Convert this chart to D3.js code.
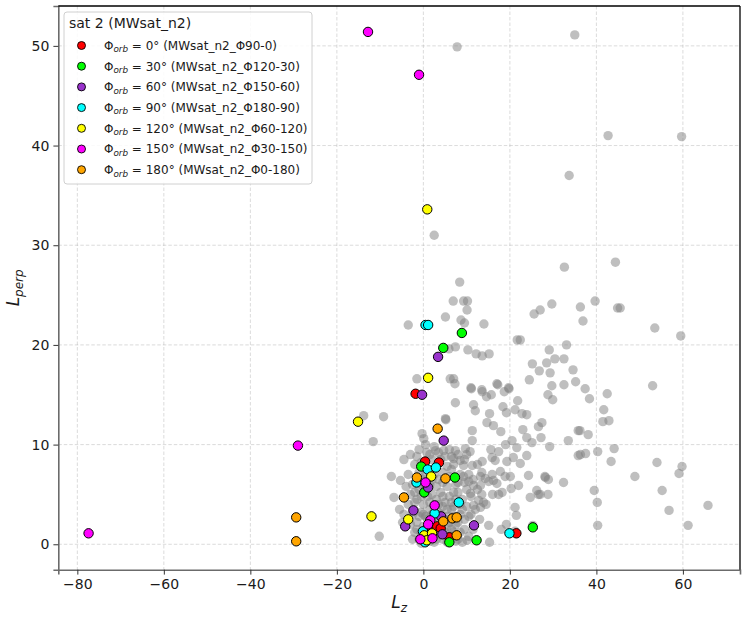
<!DOCTYPE html>
<html>
<head>
<meta charset="utf-8">
<script src="https://cdn.jsdelivr.net/npm/d3@7"></script>
<style>
  body { margin: 0; background: #fff; }
  svg { display: block; font-family: "DejaVu Sans", sans-serif; }
</style>
</head>
<body>
<svg id="chart" width="748" height="618"></svg>
<script>
// all satellites (gray background cloud), [Lz, Lperp]
const grayPoints = [
  [7.8,49.9],[35.0,51.1],[59.7,40.9],[42.7,41.0],[33.7,37.0],[2.5,31.0],[32.6,27.8],[44.4,28.3],[8.4,26.3],
  [29.7,24.1],[27.0,23.5],[25.6,23.1],[36.3,23.8],[39.7,24.4],[44.9,23.7],[45.5,23.7],[36.9,22.4],[53.5,21.7],
  [59.5,20.9],[22.4,20.5],[29.1,19.5],[33.1,20.0],[25.2,18.1],[28.5,18.2],[30.4,18.6],[32.5,18.6],[26.8,17.4],
  [29.3,17.2],[34.6,17.5],[24.5,16.5],[29.7,15.9],[32.5,16.0],[35.2,16.3],[37.4,15.6],[53.0,15.9],
  [28.8,15.0],[29.9,14.5],[38.4,14.6],[42.5,15.1],[41.7,13.5],[41.5,12.3],[42.9,12.4],[27.4,12.2],[27.2,10.7],
  [36.2,11.4],[38.1,11.0],[33.5,10.4],[29.2,9.8],[36.3,9.0],[37.5,9.1],[40.3,9.3],[44.1,9.6],[43.4,8.3],
  [54.0,8.2],[59.8,7.8],[59.1,7.1],[48.9,6.8],[28.2,6.7],[28.9,6.5],[32.4,6.2],[39.5,5.4],[55.2,5.4],[27.0,5.0],
  [28.8,5.0],[40.2,4.2],[65.8,3.9],[56.8,3.4],[40.3,1.9],[61.2,1.9],
  [6.2,16.6],[7.0,16.6],[7.3,16.1],[7.4,14.2],[11.1,15.6],[13.6,15.3],[14.6,14.8],[15.7,15.0],[17.2,16.0],
  [18.7,15.3],[19.8,15.6],[21.8,14.4],[11.6,14.0],[12.0,13.4],[15.3,13.1],[18.4,13.8],[19.2,13.2],[21.2,13.5],
  [22.8,13.1],[23.9,13.0],[5.2,12.5],[11.3,11.4],[14.7,12.2],[16.2,11.9],[17.9,11.3],[23.0,11.5],[26.6,11.8],
  [23.9,10.7],[25.1,10.2],[35.8,11.4],[11.3,10.4],[2.8,9.4],[4.7,9.4],[7.4,9.4],[9.7,9.6],[10.8,9.3],[15.6,9.5],
  [17.4,9.3],[19.0,10.0],[20.5,10.4],[21.6,9.7],[23.9,8.9],[20.8,8.7],[35.8,8.9],[7.0,8.6],[8.5,8.4],[9.3,7.9],
  [11.3,7.9],[13.6,8.3],[15.9,8.7],[16.6,8.4],[19.3,8.3],[22.4,8.1],[24.3,6.9],[28.1,6.8],[13.2,6.8],[14.3,6.6],
  [16.2,6.4],[17.8,7.3],[20.1,6.8],[22.0,5.9],[9.3,6.8],[10.5,6.3],[11.6,5.9],
  [15.9,7.0],[18.9,6.8],[15.1,6.3],[17.0,6.1],[20.3,5.6],[13.2,5.9],[26.2,5.4],[24.7,4.7],[26.6,5.0],[17.4,5.0],
  [18.2,5.2],[10.9,5.1],[12.8,4.4],[13.9,4.2],[11.6,3.9],[13.2,3.7],[21.2,3.7],[21.5,2.9],[15.1,1.9],[18.0,1.5],
  [19.2,2.0],[15.3,0.2],[10.1,0.4],[21.2,1.3],[25.3,1.9],
  [6.9,24.4],[9.3,24.4],[10.2,24.4],[10.1,23.5],[5.1,22.8],[-3.5,22.0],[8.7,22.5],[9.5,22.2],[14.0,22.1],
  [7.4,19.8],[5.9,19.6],[10.3,19.5],[12.2,19.1],[13.6,18.9],[15.2,19.1],[21.7,20.5],[-1.5,16.6],[11.0,15.7],
  [13.5,15.5],[17.0,16.1],[19.7,15.7],[-13.8,12.9],[-9.2,12.8],[-11.6,10.3],[-0.3,11.1],[0.1,10.6],[5.1,12.6],
  [-7.4,6.8],[-5.3,6.4],[-6.8,4.7],[-10.2,0.8],[-5.5,3.5],[-4.8,2.2],
  [-4.5,8.5],[-3.0,9.0],[-2.0,8.0],[-1.0,9.5],[0.5,10.0],[1.5,9.0],[2.5,9.8],[3.5,9.2],[5.0,8.8],[6.0,9.5],
  [7.0,8.0],[8.0,9.0],[9.5,8.5],[-3.5,7.0],[-2.5,6.0],[-1.0,7.2],[0.0,6.5],[1.5,6.0],[2.5,7.0],[3.5,6.5],
  [4.5,7.2],[5.5,5.8],[6.5,7.5],[7.5,6.0],[8.5,7.0],[9.5,6.2],[10.5,7.0],[11.5,6.5],[-3.0,5.0],[-2.0,4.2],
  [-1.0,5.5],[0.0,4.0],[1.0,4.8],[2.0,5.0],[3.0,4.5],[4.0,5.2],[5.0,4.2],[6.0,4.8],[7.0,3.8],[8.0,5.2],[9.0,4.5],
  [10.0,3.8],[11.0,4.8],[12.0,3.5],[-2.5,3.0],[-1.5,2.2],[-0.5,3.2],[0.5,2.8],[1.5,3.5],[2.5,2.2],[3.5,3.2],
  [4.5,3.8],[5.5,2.8],[6.5,3.5],[7.5,2.0],[8.5,3.0],[9.5,2.5],[10.5,2.8],[-2.0,1.2],[-1.0,0.5],[0.0,1.8],
  [1.0,0.8],[2.0,1.5],[3.0,0.5],[4.0,2.0],[5.0,1.2],[6.5,1.5],[7.5,0.3],[8.5,1.2],[9.0,0.2],[-0.5,0.1],[1.5,0.3],
  [3.5,1.0],[5.5,0.2],[13.5,5.0],[14.5,4.0],[16.0,5.0],[13.0,2.5],[11.5,1.5],[13.5,7.2],[12.5,8.0],[10.0,9.0],
  [0.8,9.2],[2.0,8.5],[3.0,7.8],[4.0,8.5],[5.5,7.8],[6.5,8.8],[-1.5,8.8],[-0.5,8.2],
  [0.5,7.0],[2.0,6.5],[3.0,5.8],[4.5,6.2],[6.0,6.8],[7.0,5.2],[8.0,6.2],[-0.5,6.0],[-2.0,5.2],
  [0.5,5.8],[1.5,4.2],[2.5,3.8],[3.5,4.0],[4.5,4.8],[5.5,3.5],[6.5,4.2],[7.5,4.5],[8.5,4.0],[-1.5,4.5],[-0.5,4.8],
  [0.0,3.0],[1.0,2.5],[2.0,3.0],[3.0,2.8],[4.0,3.0],[5.0,2.5],[6.0,2.2],[7.0,2.8],[8.0,2.2],[-1.0,2.8],[-3.0,2.0],
  [-1.5,1.5],[-0.5,1.2],[0.5,1.5],[2.5,1.0],[4.5,0.5],[5.5,1.8],[6.5,0.8],[7.0,1.2],[8.0,0.5],[-2.5,0.5],[2.5,0.2],
  [9.0,3.5],[10.0,5.5],[11.0,3.0],[12.5,5.5],[9.5,1.5],[10.5,0.8],[-3.5,4.0],[-4.0,5.8],[-4.5,3.0]
]

// one array per orbital phase
const phi0 = [[-1.8,15.1],[0.4,8.3],[3.6,8.2],[1.5,1.8],[3.2,1.8],[4.0,1.6],[6.0,0.7],[21.5,1.1]]
const phi30 = [[8.9,21.2],[4.6,19.7],[-0.5,7.8],[7.3,6.7],[0.2,5.2],[6.0,0.2],[12.3,0.4],[25.3,1.7]]
const phi60 = [[3.4,18.8],[-0.3,15.0],[4.7,10.4],[1.1,5.7],[-2.3,3.4],[4.1,2.8],[-4.2,1.8],[11.7,1.9],[4.4,1.0]]
const phi90 = [[0.5,22.0],[1.1,22.0],[1.0,7.5],[2.9,7.7],[-1.6,6.2],[8.2,4.2],[2.6,3.1],[-0.1,1.3],[0.4,0.2],[19.9,1.1]]
const phi120 = [[0.9,33.6],[1.1,16.7],[-15.1,12.3],[-12.0,2.8],[1.8,6.8],[-3.5,2.5],[0.2,0.9],[2.0,1.1],[0.8,0.4]]
const phi150 = [[-12.8,51.4],[-1.0,47.1],[-29.0,9.9],[-77.4,1.1],[0.5,6.2],[2.6,3.9],[1.6,2.4],[1.1,2.0],[-0.7,0.5],[2.1,0.6]]
const phi180 = [[3.3,11.6],[-1.5,6.7],[5.1,6.6],[-4.5,4.7],[6.7,2.6],[7.7,2.7],[4.6,2.3],[7.7,0.9],[-29.4,2.7],[-29.4,0.3]]

const phaseDeg = [0, 30, 60, 90, 120, 150, 180]
const runNames = ["Φ90-0", "Φ120-30", "Φ150-60", "Φ180-90", "Φ60-120", "Φ30-150", "Φ0-180"]
const phaseColors = ["#ff0000", "#00ff00", "#9932cc", "#00ffff", "#ffff00", "#ff00ff", "#ffa500"]
const xTicks = [-80, -60, -40, -20, 0, 20, 40, 60]
const yTicks = [0, 10, 20, 30, 40, 50]

const series = [phi0, phi30, phi60, phi90, phi120, phi150, phi180]

const svg = d3.select("#chart")
const plotLeft = 58.3, plotRight = 740, plotTop = 6, plotBottom = 569.7
const markR = 4.7

const x = d3.scaleLinear().domain([-84.4, 73.2]).range([plotLeft, plotRight])
const y = d3.scaleLinear().domain([-2.55, 54.0]).range([plotBottom, plotTop])

// grid
const grid = svg.append("g")
grid.selectAll(".gx").data(xTicks).enter().append("line")
  .attr("x1", d => x(d)).attr("x2", d => x(d))
  .attr("y1", plotTop).attr("y2", plotBottom)
  .attr("stroke", "#b0b0b0").attr("stroke-opacity", 0.5)
  .attr("stroke-width", 0.9).attr("stroke-dasharray", "3.5,2")
grid.selectAll(".gy").data(yTicks).enter().append("line")
  .attr("x1", plotLeft).attr("x2", plotRight)
  .attr("y1", d => y(d)).attr("y2", d => y(d))
  .attr("stroke", "#b0b0b0").attr("stroke-opacity", 0.5)
  .attr("stroke-width", 0.9).attr("stroke-dasharray", "3.5,2")

// background cloud
svg.append("g")
  .selectAll("circle")
  .data(grayPoints)
  .enter()
  .append("circle")
  .attr("cx", d => x(d[0]))
  .attr("cy", d => y(d[1]))
  .attr("r", markR)
  .attr("fill", "#808080")
  .attr("fill-opacity", 0.5)

// coloured phases on top
series.forEach((pts, i) => {
  svg.append("g")
    .selectAll("circle")
    .data(pts)
    .enter()
    .append("circle")
    .attr("cx", d => x(d[0]))
    .attr("cy", d => y(d[1]))
    .attr("r", markR)
    .attr("fill", phaseColors[i])
    .attr("stroke", "#000")
    .attr("stroke-width", 1)
})

// axes
const fmt = d => d < 0 ? "\u2212" + Math.abs(d) : String(d)
const xAxis = svg.append("g")
  .attr("transform", `translate(0,${plotBottom})`)
  .call(d3.axisBottom(x).tickValues(xTicks).tickFormat(fmt).tickSizeOuter(0).tickSize(4.9).tickPadding(4))
const yAxis = svg.append("g")
  .attr("transform", `translate(${plotLeft},0)`)
  .call(d3.axisLeft(y).tickValues(yTicks).tickFormat(fmt).tickSizeOuter(0).tickSize(4.9).tickPadding(4))
;[xAxis, yAxis].forEach(ax => {
  ax.select(".domain").attr("stroke", "#6b6b6b").attr("stroke-width", 1.6)
  ax.selectAll(".tick line").attr("stroke", "#333").attr("stroke-width", 1)
  ax.selectAll(".tick text").attr("font-size", "14px").attr("fill", "#1a1a1a")
    .attr("font-family", "DejaVu Sans")
})

// top / right frame
svg.append("line").attr("x1", plotLeft).attr("x2", plotRight).attr("y1", plotTop).attr("y2", plotTop)
  .attr("stroke", "#000").attr("stroke-width", 1.3)
svg.append("line").attr("x1", plotRight).attr("x2", plotRight).attr("y1", plotTop).attr("y2", plotBottom)
  .attr("stroke", "#000").attr("stroke-width", 1.3)

// axis labels
const xl = svg.append("text")
  .attr("x", (plotLeft + plotRight) / 2).attr("y", 608)
  .attr("text-anchor", "middle").attr("font-size", "17px").attr("fill", "#1a1a1a")
xl.append("tspan").attr("font-style", "italic").text("L")
xl.append("tspan").attr("font-style", "italic").attr("font-size", "12px").attr("dy", 4).text("z")

const yl = svg.append("text")
  .attr("transform", `translate(19,${(plotTop + plotBottom) / 2}) rotate(-90)`)
  .attr("text-anchor", "middle").attr("font-size", "17px").attr("fill", "#1a1a1a")
yl.append("tspan").attr("font-style", "italic").text("L")
yl.append("tspan").attr("font-style", "italic").attr("font-size", "12px").attr("dy", 4).text("perp")

// legend
const legend = svg.append("g").attr("transform", "translate(64,12)")
legend.append("rect")
  .attr("width", 248).attr("height", 172).attr("rx", 3)
  .attr("fill", "#fff").attr("fill-opacity", 0.85)
  .attr("stroke", "#d0d0d0").attr("stroke-width", 1)
legend.append("text")
  .attr("x", 5).attr("y", 16)
  .attr("font-size", "14px").attr("fill", "#1a1a1a")
  .text("sat 2 (MWsat_n2)")

const rowStep = 20.7
const rows = legend.selectAll(".row")
  .data(phaseDeg)
  .enter()
  .append("g")
  .attr("transform", (d, i) => `translate(0,${33.5 + i * rowStep})`)
rows.append("circle")
  .attr("cx", 17.5).attr("cy", 0).attr("r", 4)
  .attr("fill", (d, i) => phaseColors[i])
  .attr("stroke", "#000").attr("stroke-width", 0.9)
rows.each(function (d, i) {
  const t = d3.select(this).append("text")
    .attr("x", 40).attr("y", 4.3)
    .attr("font-size", "12px").attr("fill", "#1a1a1a")
  t.append("tspan").text("Φ")
  t.append("tspan").attr("font-style", "italic").attr("font-size", "8.8px").attr("dy", 2.5).text("orb")
  t.append("tspan").attr("dy", -2.5).text(` = ${d}° (MWsat_n2_${runNames[i]})`)
})
</script>
</body>
</html>
